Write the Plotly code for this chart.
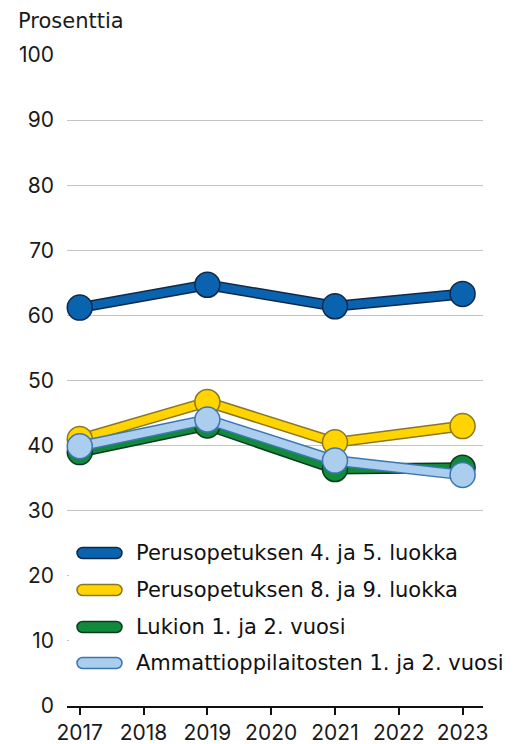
import plotly.graph_objects as go

# vuodet ja sarjat
years = [2017, 2019, 2021, 2023]
series_names = [
    "Perusopetuksen 4. ja 5. luokka",
    "Perusopetuksen 8. ja 9. luokka",
    "Lukion 1. ja 2. vuosi",
    "Ammattioppilaitosten 1. ja 2. vuosi",
]
perus_4_5 = [61.2, 64.7, 61.4, 63.3]
perus_8_9 = [41.0, 46.7, 40.5, 43.0]
lukio = [39.0, 43.1, 36.4, 36.6]
ammatti = [39.9, 44.0, 37.7, 35.5]
x_ticks = [2017, 2018, 2019, 2020, 2021, 2022, 2023]
y_ticks = [0, 10, 20, 30, 40, 50, 60, 70, 80, 90, 100]

all_values = [perus_4_5, perus_8_9, lukio, ammatti]
fills = ["#0a63ae", "#ffd400", "#128a3c", "#abcdee"]
edges = ["#10294a", "#8a7721", "#0d3a1f", "#3b76b0"]

W, H = 518, 744
OFF = 8  # sivun oletusmarginaali siirtää kuvaa
L, R, T, B = 67 - OFF, 35 + OFF, 55 - OFF, 38 + OFF
NUM_FONT = "Inter"
TXT_FONT = "DejaVu Sans"

fig = go.Figure()

for vals, fc, ec, name in zip(all_values, fills, edges, series_names):
    # tumma reunaviiva
    fig.add_trace(go.Scatter(x=years, y=vals, mode="lines",
                             line=dict(color=ec, width=11),
                             showlegend=False, hoverinfo="skip", cliponaxis=False))
    fig.add_trace(go.Scatter(x=years, y=vals, mode="lines+markers", name=name,
                             line=dict(color=fc, width=8),
                             marker=dict(size=25, color=fc, line=dict(color=ec, width=1.5)),
                             showlegend=False, cliponaxis=False))


# näytön pikselit -> paper-koordinaatit
def px_x(p):
    return (p - OFF - L) / (W - L - R)


def px_y(p):
    return (H - B - (p - OFF)) / (H - T - B)


def capsule(x0, x1, yc, r):
    k = 0.5523 * r
    pts = [
        f"M {px_x(x0 + r)},{px_y(yc - r)}",
        f"L {px_x(x1 - r)},{px_y(yc - r)}",
        f"C {px_x(x1 - r + k)},{px_y(yc - r)} {px_x(x1)},{px_y(yc - k)} {px_x(x1)},{px_y(yc)}",
        f"C {px_x(x1)},{px_y(yc + k)} {px_x(x1 - r + k)},{px_y(yc + r)} {px_x(x1 - r)},{px_y(yc + r)}",
        f"L {px_x(x0 + r)},{px_y(yc + r)}",
        f"C {px_x(x0 + r - k)},{px_y(yc + r)} {px_x(x0)},{px_y(yc + k)} {px_x(x0)},{px_y(yc)}",
        f"C {px_x(x0)},{px_y(yc - k)} {px_x(x0 + r - k)},{px_y(yc - r)} {px_x(x0 + r)},{px_y(yc - r)} Z",
    ]
    return " ".join(pts)


shapes = [
    # legendan valkoinen tausta
    dict(type="rect", xref="paper", yref="paper", x0=px_x(69), x1=px_x(530),
         y0=px_y(684), y1=px_y(530), fillcolor="white", line=dict(width=0), layer="above"),
]
annotations = [
    dict(text="Prosenttia", xref="paper", yref="paper", x=px_x(16), y=px_y(21),
         xanchor="left", yanchor="middle", showarrow=False,
         font=dict(family=TXT_FONT, size=21, color="#1a1a1a")),
]
rows = [553, 590, 627, 663]
for yc, fc, ec, name in zip(rows, fills, edges, series_names):
    shapes.append(dict(type="path", xref="paper", yref="paper", path=capsule(77, 122, yc, 5.5),
                       fillcolor=fc, line=dict(color=ec, width=1.5), layer="above"))
    annotations.append(dict(text=name, xref="paper", yref="paper", x=px_x(134), y=px_y(yc),
                            xanchor="left", yanchor="middle", showarrow=False,
                            font=dict(family=TXT_FONT, size=21, color="#111111")))

fig.update_layout(
    width=W, height=H,
    margin=dict(l=L, r=R, t=T, b=B),
    plot_bgcolor="white", paper_bgcolor="white",
    font=dict(family=NUM_FONT, size=21, color="#1a1a1a"),
    shapes=shapes, annotations=annotations,
    xaxis=dict(range=[2016.8, 2023.32], tickmode="array", tickvals=x_ticks,
               showgrid=False, zeroline=False, showline=True, linecolor="#111111", linewidth=2,
               ticks="outside", ticklen=7, tickwidth=2, tickcolor="#111111",
               ticklabelstandoff=0, tickfont=dict(size=21), automargin=False),
    yaxis=dict(range=[0, 100], tickmode="array", tickvals=y_ticks,
               showgrid=True, gridcolor="#c4c4c4", gridwidth=1, zeroline=False,
               showline=False, ticks="", ticklabelstandoff=12, tickfont=dict(size=21),
               automargin=False),
)

fig.write_html("out.html")
